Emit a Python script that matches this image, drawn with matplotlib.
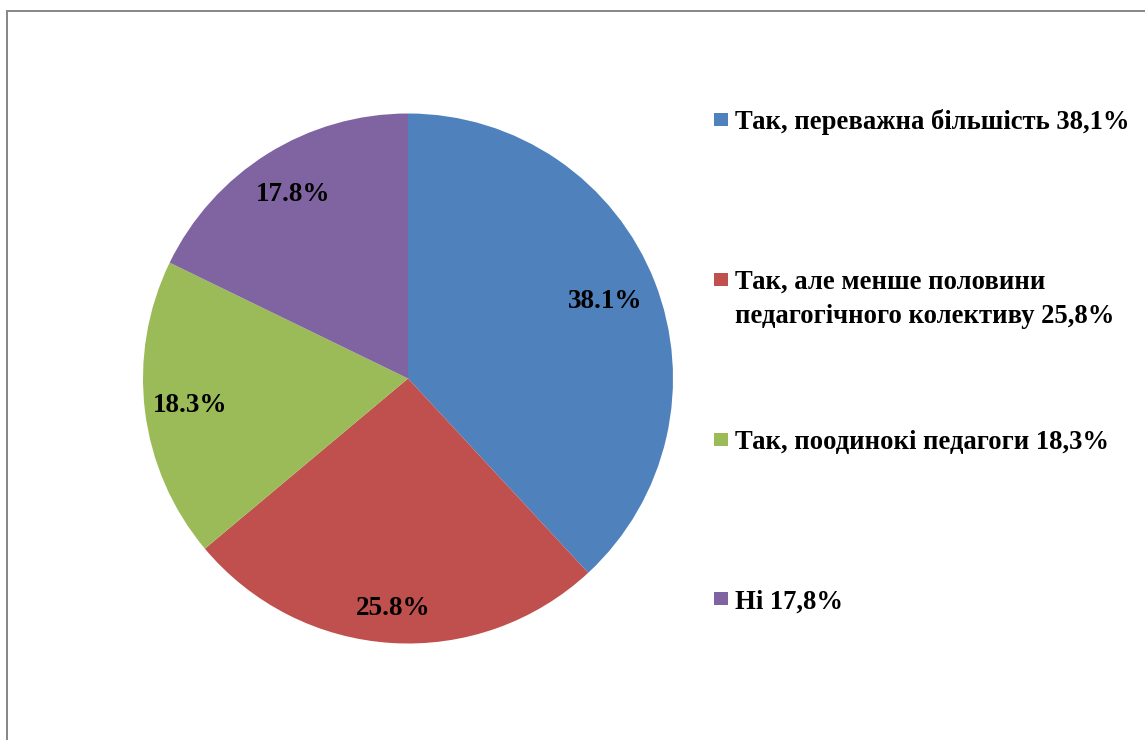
import matplotlib.pyplot as plt
from matplotlib.patches import Rectangle
import numpy as np

### Data
labels = ['Так, переважна більшість 38,1%',
          'Так, але менше половини\nпедагогічного колективу 25,8%',
          'Так, поодинокі педагоги 18,3%',
          'Ні 17,8%']
values = [38.1, 25.8, 18.3, 17.8]
colors = ['#4F81BD', '#C0504D', '#9BBB59', '#8064A2']
# distance of each percent label from centre (fraction of radius)
label_dist = [0.80, 0.87, 0.83, 0.82]

plt.rcParams['font.family'] = ['Liberation Serif', 'DejaVu Serif']
plt.rcParams['font.weight'] = 'bold'

W, H = 1145, 740
fig = plt.figure(figsize=(W / 100, H / 100), dpi=100)
fig.patch.set_facecolor('white')

def fx(px):
  return px / W

def fy(py):
  return 1 - py / H

# outer chart frame
fig.patches.append(Rectangle((fx(7), fy(H + 20)), fx(W + 20), fy(11) - fy(H + 20),
                             transform=fig.transFigure, fill=False,
                             edgecolor='#868686', linewidth=1.4))

### Pie
cx, cy, r = 408, 378.5, 265
ax = fig.add_axes([fx(cx - r), fy(cy + r), fx(2 * r), fy(cy - r) - fy(cy + r)])
wedges, texts, autotexts = ax.pie(values, colors=colors, startangle=90, counterclock=False,
                                  autopct='%.1f%%', pctdistance=0.83,
                                  wedgeprops=dict(linewidth=0),
                                  textprops=dict(fontsize=19.5, fontweight='bold', color='black'))
for w, t, d in zip(wedges, autotexts, label_dist):
  ang = np.deg2rad((w.theta1 + w.theta2) / 2)
  t.set_position((d * np.cos(ang), d * np.sin(ang)))
ax.set_xlim(-1, 1)
ax.set_ylim(-1, 1)
ax.set_aspect('equal')
ax.axis('off')

### Legend
marker_y = [119.5, 279.5, 439.5, 598.5]
text_base = [129, 289, 449, 609]
for lab, c, my, ty in zip(labels, colors, marker_y, text_base):
  fig.patches.append(Rectangle((fx(714), fy(my + 6.5)), fx(13.5), fy(my - 6.5) - fy(my + 6.5),
                               transform=fig.transFigure, facecolor=c, edgecolor='none'))
  lines = lab.split('\n')
  for i, ln in enumerate(lines):
    fig.text(fx(735), fy(ty + i * 34), ln, fontsize=19.2, fontweight='bold',
             va='baseline', ha='left', color='black')

fig.savefig('out.png', dpi=100, facecolor='white')
